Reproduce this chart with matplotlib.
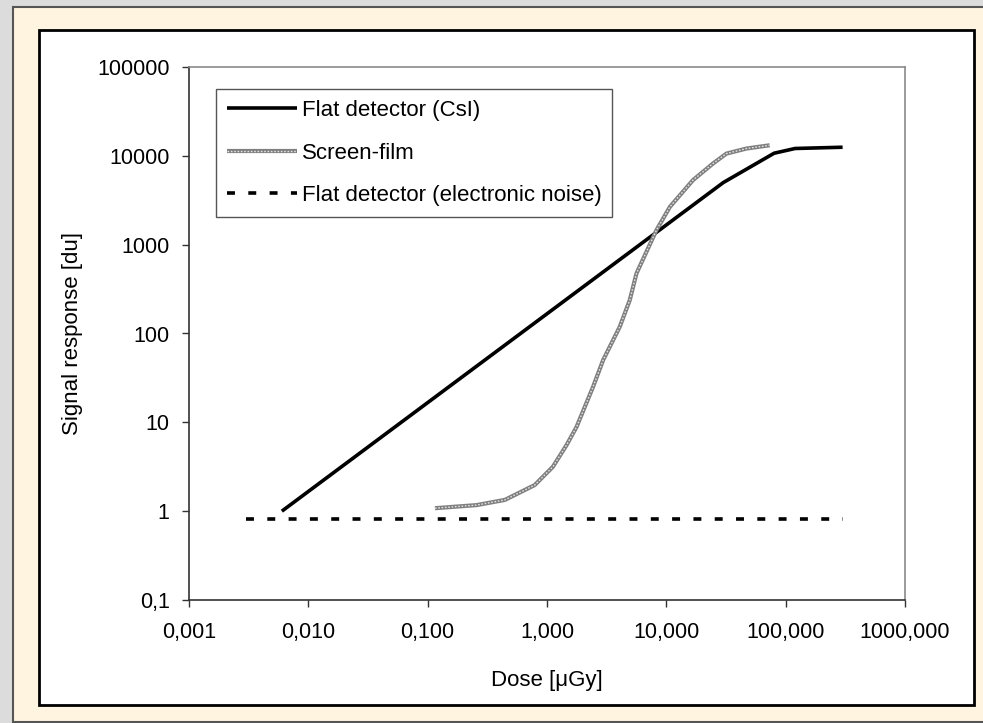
import matplotlib
matplotlib.use("Agg")
import matplotlib.pyplot as plt
from matplotlib.patches import Rectangle
from matplotlib.legend_handler import HandlerTuple

plt.rcParams["font.family"] = ["Liberation Sans", "DejaVu Sans"]

# flat detector (CsI) response
csi_dose = [0.006, 30, 80, 120, 300]
csi_signal = [1, 5000, 10700, 12100, 12500]

# screen-film response
film_dose = [0.115, 0.257, 0.444, 0.79, 1.12, 1.46, 1.77, 2.43, 2.95, 4.07, 4.94,
             5.62, 8.26, 10.7, 16.7, 24.6, 31.9, 46.9, 73.5]
film_signal = [1.08, 1.17, 1.34, 1.97, 3.16, 5.56, 8.9, 25, 50, 119, 238,
               474, 1456, 2660, 5320, 8190, 10600, 12080, 13150]

# flat detector electronic noise level
noise_dose = [0.003, 300]
noise_signal = [0.82, 0.82]

xticks = [0.001, 0.01, 0.1, 1, 10, 100, 1000]
xtick_labels = ["0,001", "0,010", "0,100", "1,000", "10,000", "100,000", "1000,000"]
yticks = [0.1, 1, 10, 100, 1000, 10000, 100000]
ytick_labels = ["0,1", "1", "10", "100", "1000", "10000", "100000"]

W, H = 983, 723
fig = plt.figure(figsize=(W / 100, H / 100), dpi=100, facecolor="#dcdcdc")

# beige frame and white chart area (behind the axes)
fig.patches.append(Rectangle((13 / W, 1 / H), 1 - 13 / W + 0.01, (H - 8) / H,
                             transform=fig.transFigure, facecolor="#fff4e0",
                             edgecolor="#555555", linewidth=1.5, zorder=-2))
fig.patches.append(Rectangle((39 / W, 18 / H), 935 / W, 675 / H,
                             transform=fig.transFigure, facecolor="white",
                             edgecolor="black", linewidth=2, zorder=-1))

ax = fig.add_axes([189 / W, (H - 600) / H, 716 / W, 533 / H])
ax.set_facecolor("white")
ax.set_xscale("log")
ax.set_yscale("log")

l_csi, = ax.plot(csi_dose, csi_signal, color="black", linewidth=2.6,
                 solid_capstyle="butt")
l_film, = ax.plot(film_dose, film_signal, color="#7f7f7f", linewidth=3.0,
                  solid_capstyle="butt")
l_film2, = ax.plot(film_dose, film_signal, color="#e2e2e2", linewidth=1.0,
                   linestyle=(0, (1.2, 1.2)))
l_noise, = ax.plot(noise_dose, noise_signal, color="black", linewidth=2.6,
                   linestyle=(0, (2.2, 3.7)))

ax.set_xlim(0.001, 1000)
ax.set_ylim(0.1, 100000)
ax.set_xticks(xticks)
ax.set_xticklabels(xtick_labels)
ax.set_yticks(yticks)
ax.set_yticklabels(ytick_labels)
ax.minorticks_off()
ax.tick_params(axis="both", direction="out", length=5, width=1, labelsize=15.5,
               color="#333333")
ax.tick_params(axis="x", pad=11)
ax.tick_params(axis="y", pad=9)

for s in ["left", "bottom"]:
    ax.spines[s].set_color("#333333")
    ax.spines[s].set_linewidth(1.2)
for s in ["top", "right"]:
    ax.spines[s].set_color("#8a8a8a")
    ax.spines[s].set_linewidth(1.2)

ax.set_xlabel("Dose [μGy]", fontsize=16, labelpad=19)
ax.set_ylabel("Signal response [du]", fontsize=16, labelpad=10)

leg = ax.legend([l_csi, (l_film, l_film2), l_noise],
                ["Flat detector (CsI)", "Screen-film", "Flat detector (electronic noise)"],
                handler_map={tuple: HandlerTuple(ndivide=1)},
                loc="upper left", bbox_to_anchor=(27 / 716, (600 - 89) / 533),
                borderaxespad=0, fontsize=16, handlelength=3.15, handletextpad=0.2,
                borderpad=0.5, labelspacing=0.97, fancybox=False, framealpha=1)
leg.get_frame().set_edgecolor("#555555")
leg.get_frame().set_linewidth(1.0)

fig.savefig("out.png", dpi=100, facecolor=fig.get_facecolor())
